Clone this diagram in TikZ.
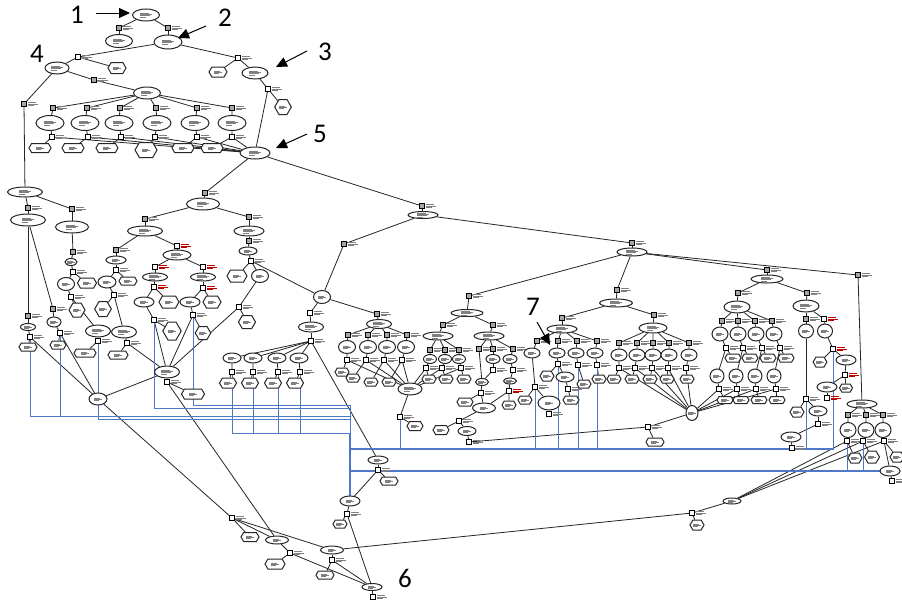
\documentclass[tikz,border=0pt]{standalone}
\usepackage{fontspec}
\newfontfamily\numfont{Carlito}
\usetikzlibrary{shapes.geometric,shapes.symbols,arrows.meta}
\definecolor{blueL}{RGB}{78,120,200}
\pgfdeclarelayer{bg}
\pgfsetlayers{bg,main}
\newcommand\fin{\color{black!50}\vbox{\hrule width 6pt height .35pt\vskip .8pt\hrule width 8pt height .35pt\vskip .8pt\hrule width 5pt height .35pt}}
\newcommand\finb{\color{black!50}\vbox{\hrule width 9pt height .35pt\vskip .8pt\hrule width 12pt height .35pt\vskip .8pt\hrule width 10pt height .35pt\vskip .8pt\hrule width 6pt height .35pt}}
\newcommand\ftx{\color{black!50}\vbox{\hrule width 8pt height .4pt\vskip 1pt\hrule width 10pt height .4pt\vskip 1pt\hrule width 6pt height .4pt}}
\newcommand\ftr{\color{red!75!black}\vbox{\hrule width 8pt height .45pt\vskip 1pt\hrule width 10pt height .45pt\vskip 1pt\hrule width 6pt height .45pt}}
\tikzset{
 el/.style={ellipse,draw=black!85,line width=1pt,fill=white,inner sep=0pt},
 hx/.style={signal,signal to=east and west,signal pointer angle=120,draw=black!85,line width=1pt,fill=white,inner sep=0pt},
 sq/.style={rectangle,draw=black,line width=0.7pt,fill=white,minimum size=4.8pt,inner sep=0pt,label={[inner sep=0.8pt]right:\ftx}},
 sqg/.style={sq,fill=black!35},
 sqr/.style={rectangle,draw=black,line width=0.7pt,fill=white,minimum size=4.8pt,inner sep=0pt,label={[inner sep=0.8pt]right:\ftr}},
 ed/.style={draw=black!85,line width=0.8pt},
 bl/.style={draw=blueL,line width=0.9pt},
 blt/.style={draw=blueL,line width=1.8pt},
 num/.style={font=\numfont\fontsize{27}{30}\selectfont,inner sep=0pt},
 arr/.style={line width=1pt,-{Triangle[length=11pt,width=10pt]}}
}
\newcommand\ndE[5]{\node[el,minimum width=#4pt,minimum height=#5pt] (#1) at (#2,#3) {\ifdim#4pt>23pt\finb\else\fin\fi};}
\newcommand\ndH[5]{\node[hx,minimum width=#4pt,minimum height=#5pt] (#1) at (#2,#3) {\fin};}
\newcommand\ndS[3]{\node[sq] (#1) at (#2,#3) {};}
\newcommand\ndG[3]{\node[sqg] (#1) at (#2,#3) {};}
\newcommand\ndR[3]{\node[sqr] (#1) at (#2,#3) {};}
\begin{document}
\begin{tikzpicture}[x=1pt,y=-1pt]
\begin{pgfonlayer}{bg}
\fill[white] (0,0) rectangle (902,605);
\end{pgfonlayer}
\useasboundingbox (0,0) rectangle (902,605);
% ---------- top ----------
\ndE{a1}{146}{15}{27}{12}
\ndG{a1s1}{119}{28}
\ndG{a1s2}{168}{28}
\ndE{a2}{119}{41}{27}{13}
\ndE{a3}{168}{42}{28}{14}
\ndS{a3s1}{78}{57}
\ndS{a3s2}{238}{58}
\ndE{a4}{57}{68}{24}{12}
\ndH{a4h}{117}{68}{18}{11}
\ndH{a5h}{218}{72}{18}{10}
\ndE{a5}{255}{73}{26}{12}
\ndS{a5s}{268}{89}
\ndH{a5h2}{283}{107}{16}{15}
\ndG{a4s1}{94}{80}
\ndE{a6}{147}{93}{27}{12}
\ndG{a4s2}{24}{104}
\foreach \i/\xa/\xb/\xc/\xd/\yh/\hh in {1/53/50/52/40/148/9,2/87/85/88/73/148/9,3/120/119/121/107/148/9,4/156/157/155/146/150/15,5/197/195/197/183/148/9,6/232/232/232/212/148/9}{
 \node[sqg] (bs\i) at (\xa,108) {};
 \node[el,minimum width=28pt,minimum height=15pt] (be\i) at (\xb,123) {\finb};
 \node[sq] (bq\i) at (\xc,137) {};
 \node[hx,minimum width=22pt,minimum height=\hh pt] (bh\i) at (\xd,\yh) {\fin};
}
\ndE{n5}{255}{153}{30}{12}
% ---------- left middle ----------
\ndE{c1}{25}{192}{35}{10}
\ndG{c1s1}{28}{208}
\ndG{c1s2}{72}{209}
\ndE{c2}{28}{220}{35}{12}
\ndE{c3}{72}{227}{33}{12}
\ndG{c3s}{73}{252}
\ndE{c4}{71}{262}{12}{7}
\ndS{c4s}{73}{272}
\ndE{c5}{66}{284}{17}{13}
\ndH{c5h}{87}{283}{19}{10}
\ndS{c5s}{71}{297}
\ndH{c5h2}{77}{310}{14}{14}
\ndE{c6}{98}{331}{25}{12}
\ndS{c6s}{98}{341}
\ndH{c6h}{85}{353}{22}{8}
\ndG{c2s1}{28}{316}
\ndE{c7}{28}{327}{15}{7}
\ndS{c7s}{30}{337}
\ndH{c7h}{28}{347}{18}{8}
\ndG{c2s2}{53}{309}
\ndE{c8}{54}{322}{14}{10}
\ndS{c8s}{60}{333}
\ndH{c8h}{58}{345}{16}{8}
\ndE{c9}{98}{399}{18}{12}
% ---------- middle ----------
\ndG{d0s}{205}{193}
\ndE{d0}{203}{204}{33}{12}
\ndG{d1s}{145}{219}
\ndE{d1}{145}{231}{35}{10}
\ndG{d2s}{249}{217}
\ndE{d2}{249}{231}{30}{10}
\ndG{d3s}{116}{250}
\ndE{d3}{116}{260}{20}{8}
\ndS{d3q}{116}{270}
\ndE{d4}{107}{282}{18}{12}
\ndH{d4h}{128}{281}{18}{8}
\ndS{d4s}{114}{295}
\ndH{d4h2}{103}{309}{13}{15}
\ndE{d5}{124}{332}{25}{12}
\ndS{d5s}{127}{343}
\ndH{d5h}{118}{355}{20}{8}
\ndR{d6s}{177}{246}
\ndE{d6}{177}{255}{28}{10}
\ndR{d7s}{155}{267}
\ndE{d7}{155}{277}{25}{8}
\ndR{d8s}{203}{267}
\ndE{d8}{203}{277}{25}{8}
\ndR{d7q}{154}{287}
\ndE{d9}{144}{302}{20}{10}
\ndH{d9h}{169}{302}{20}{12}
\ndR{d8q}{203}{288}
\ndE{d10}{190}{302}{20}{10}
\ndH{d10h}{212}{302}{18}{12}
\ndS{d9s}{154}{320}
\ndH{d9h2}{172}{331}{16}{18}
\ndS{d10s}{193}{315}
\ndH{d10h2}{203}{333}{14}{13}
\ndE{m0}{167}{372}{25}{12}
\ndS{m0s}{167}{382}
\ndH{m0h}{193}{394}{23}{10}
\ndG{d2q}{249}{241}
\ndE{d11}{248}{251}{18}{8}
\ndS{d11s}{251}{261}
\ndH{d11h}{237}{276}{20}{12}
\ndE{d12}{260}{276}{17}{13}
\ndS{d12s}{239}{307}
\ndH{d12h}{247}{322}{17}{13}
% ---------- centre ----------
\ndG{g0s}{422}{206}
\ndE{g0}{423}{215}{30}{7}
\ndG{f0s}{344}{244}
\ndE{f0}{322}{297}{17}{13}
\ndS{f1s}{310}{313}
\ndE{f1}{311}{327}{25}{10}
\ndS{f1q}{311}{341}
\foreach \i/\xe/\xq/\xh in {1/232/232/228,2/253/253/250,3/277/278/273,4/299/300/295}{
 \node[el,minimum width=18pt,minimum height=10pt] (fl\i) at (\xe,358) {\fin};
 \node[sq] (flq\i) at (\xq,372) {};
 \node[hx,minimum width=17pt,minimum height=10pt] (flh\i) at (\xh,383) {\fin};
}
\ndG{f2s}{377}{314}
\ndE{f2}{379}{324}{25}{9}
\foreach \i/\xs/\xe/\xq/\xh/\yh in {1/348/347/347/342/372,2/368/368/366/353/378,3/387/387/384/371/382,4/407/406/402/389/382}{
 \node[sqg] (frs\i) at (\xs,335) {};
 \node[el,minimum width=17pt,minimum height=13pt] (fre\i) at (\xe,347) {\fin};
 \node[sq] (frq\i) at (\xq,360) {};
 \node[hx,minimum width=14pt,minimum height=8pt] (frh\i) at (\xh,\yh) {\fin};
}
\ndE{m1}{410}{389}{24}{12}
\ndS{m1s}{400}{417}
\ndH{m1h}{415}{426}{16}{9}
% ---------- centre right ----------
\ndG{p0s}{632}{243}
\ndE{p0}{632}{252}{30}{8}
\ndG{h0s}{469}{296}
\ndE{h0}{467}{313}{32}{7}
\ndG{h1s}{443}{325}
\ndE{h1}{438}{336}{30}{8}
\ndG{h2s}{493}{325}
\ndE{h2}{489}{336}{30}{8}
\foreach \i/\x/\xq/\xh in {1/430/426/429,2/445/442/446,3/459/461/464}{
 \node[sqg] (h1s\i) at (\x,350) {};
 \node[el,minimum width=13pt,minimum height=9pt] (h1e\i) at (\x,359) {\fin};
 \node[sq] (h1q\i) at (\xq,368) {};
 \node[hx,minimum width=14pt,minimum height=8pt] (h1h\i) at (\xh,379) {\fin};
}
\ndG{h2sA}{479}{349}
\ndE{h2eA}{482}{382}{13}{7}
\ndG{h2sB}{493}{349}
\ndE{h2eB}{493}{359}{14}{9}
\ndS{h2qB}{493}{370}
\ndG{h2sC}{513}{349}
\ndE{h2eC}{510}{359}{14}{9}
\ndS{h2qC}{513}{370}
\ndE{h2rE}{510}{381}{13}{6}
\ndR{h2rS}{509}{391}
\ndH{h2rH}{509}{405}{14}{8}
\ndS{h2s4}{481}{393}
\ndH{h2h4}{465}{402}{16}{8}
\ndE{h2f}{484}{408}{23}{10}
\ndS{h2fs}{459}{421}
\ndH{h2fh}{441}{430}{16}{9}
\ndE{h2g}{467}{431}{18}{9}
\ndS{h2gs}{469}{442}
\ndG{p1s}{617}{290}
\ndE{p1}{616}{303}{33}{8}
\ndG{p2s}{562}{318}
\ndE{p2}{562}{329}{30}{8}
\ndG{p3s}{654}{315}
\ndE{p3}{653}{328}{28}{10}
\foreach \i/\xs/\xe in {1/537/532,2/558/557,3/577/576,4/597/595}{
 \node[sqg] (p2s\i) at (\xs,341) {};
 \node[el,minimum width=16pt,minimum height=10pt] (p2e\i) at (\xe,353) {\fin};
}
\ndS{p2q1}{535}{387}
\ndH{p2h1}{525}{400}{14}{8}
\ndE{p2f1}{549}{403}{22}{14}
\ndS{p2r1}{549}{414}
\ndS{p2q2}{558}{364}
\ndH{p2h2}{547}{376}{14}{10}
\ndE{p2f2}{565}{377}{18}{10}
\ndS{p2r2}{568}{389}
\ndH{p2g2}{571}{400}{16}{8}
\ndS{p2q3}{578}{365}
\ndH{p2h3}{584}{384}{14}{8}
\ndS{p2q4}{597}{365}
\ndH{p2h4}{599}{379}{14}{8}
\foreach \i/\x/\xq/\xh in {1/619/619/614,2/637/635/632,3/653/652/650,4/669/668/667,5/689/686/687}{
 \node[sqg] (p3s\i) at (\x,343) {};
 \node[el,minimum width=16pt,minimum height=12pt] (p3e\i) at (\x,355) {\fin};
 \node[sq] (p3q\i) at (\xq,368) {};
 \node[hx,minimum width=14pt,minimum height=8pt] (p3h\i) at (\xh,379) {\fin};
}
\ndE{m2}{692}{413}{12}{15}
\ndS{m2s}{648}{427}
\ndH{m2h}{655}{442}{18}{8}
% ---------- right ----------
\ndG{q0s}{767}{270}
\ndE{q0}{767}{279}{32}{8}
\ndG{q1s}{738}{293}
\ndE{q1}{737}{307}{26}{12}
\ndG{q2s}{807}{293}
\ndE{q2}{806}{306}{26}{12}
\foreach \i/\xa/\xe/\xq/\xh/\xf/\xr/\xg in {1/722/720/726/733/717/719/725,2/738/738/743/750/736/737/741,3/755/756/762/768/755/756/759,4/772/774/780/786/774/776/777}{
 \node[sqg] (q1s\i) at (\xa,321) {};
 \node[el,minimum width=16pt,minimum height=14pt] (q1e\i) at (\xe,334) {\fin};
 \node[sq] (q1q\i) at (\xq,348) {};
 \node[hx,minimum width=16pt,minimum height=8pt] (q1h\i) at (\xh,358) {\fin};
 \node[el,minimum width=14pt,minimum height=14pt] (q1f\i) at (\xf,376) {\fin};
 \node[sq] (q1r\i) at (\xr,389) {};
 \node[hx,minimum width=16pt,minimum height=7pt] (q1g\i) at (\xg,400) {\fin};
}
\ndG{q2sa}{806}{319}
\ndE{q2ea}{806}{331}{15}{14}
\ndS{q2qa}{806}{399}
\ndH{q2ha}{797}{412}{14}{10}
\ndE{q2fa}{818}{411}{18}{10}
\ndS{q2ra}{818}{424}
\ndE{q2ga}{791}{437}{20}{10}
\ndS{q2gs}{792}{448}
\ndR{q2sb}{824}{319}
\ndE{q2eb}{825}{331}{15}{14}
\ndR{q2qb}{833}{349}
\ndH{q2hb}{820}{362}{13}{10}
\ndE{q2fb}{846}{360}{20}{10}
\ndR{q2rb}{845}{375}
\ndE{q2fc}{827}{387}{20}{10}
\ndR{q2rc}{827}{398}
\ndH{q2hc}{846}{388}{13}{8}
\ndG{r0s}{858}{275}
\ndE{r0}{862}{404}{30}{8}
\foreach \i/\x/\xq/\xh/\yh/\hh in {1/848/847/855/458/10,2/866/863/872/457/12,3/883/884/897/457/10}{
 \node[sqg] (rs\i) at (\x,415) {};
 \node[el,minimum width=16pt,minimum height=15pt] (re\i) at (\x,430) {\fin};
 \node[sq] (rq\i) at (\xq,441) {};
 \node[hx,minimum width=14pt,minimum height=\hh pt] (rh\i) at (\xh,\yh) {\fin};
}
\ndE{r4}{890}{471}{20}{10}
\ndS{r4s}{892}{481}
\ndE{t0}{732}{501}{18}{6}
\ndS{t0s}{692}{513}
\ndH{t0h}{697}{525}{14}{10}
% ---------- bottom ----------
\ndE{k0}{378}{460}{20}{8}
\ndS{k0s}{378}{470}
\ndH{k0h}{389}{481}{18}{8}
\ndE{k1}{350}{501}{20}{10}
\ndS{k1s}{347}{514}
\ndH{k1h}{340}{524}{14}{8}
\ndS{e1s}{232}{518}
\ndH{e1h}{250}{537}{18}{9}
\ndE{e2}{277}{540}{23}{8}
\ndS{e2s}{290}{553}
\ndH{e2h}{275}{564}{20}{10}
\ndE{e3}{332}{550}{23}{8}
\ndS{e3s}{332}{560}
\ndH{e3h}{325}{575}{18}{8}
\ndE{e4}{372}{587}{20}{7}
\ndS{e4s}{373}{597}
% ---------- numbers ----------
\node[num] (L1) at (77,15) {1};
\node[num] (L2) at (225,18) {2};
\node[num] (L3) at (325,52) {3};
\node[num] (L4) at (37,54) {4};
\node[num] (L5) at (320,134) {5};
\node[num] (L6) at (405,578) {6};
\node[num] (L7) at (533,307) {7};
\coordinate (A1s) at (96,13); \coordinate (A1e) at (130,13);
\coordinate (A2s) at (206,26); \coordinate (A2e) at (178,38);
\coordinate (A3s) at (307,51); \coordinate (A3e) at (276,67);
\coordinate (A5s) at (307,134); \coordinate (A5e) at (276,148);
\coordinate (A7s) at (537,322); \coordinate (A7e) at (550,345);
\draw[arr] (A1s) -- (A1e);
\draw[arr] (A2s) -- (A2e);
\draw[arr] (A3s) -- (A3e);
\draw[arr] (A5s) -- (A5e);
\draw[arr] (A7s) -- (A7e);
% ---------- connectors ----------
\begin{pgfonlayer}{bg}
\foreach \a/\b in {a1/a1s1,a1s1/a2,a1/a1s2,a1s2/a3,a3/a3s1,a3/a3s2,a3s1/a4,a3s1/a4h,a3s2/a5h,a3s2/a5,a5/a5s,a5s/a5h2,a5s/n5,a4/a4s1,a4s1/a6,a4/a4s2,a4s2/c1,
c1/c1s1,c1s1/c2,c1/c1s2,c1s2/c3,c3/c3s,c3s/c4,c4/c4s,c4s/c5,c4s/c5h,c5/c5s,c5s/c5h2,c5s/c6,c6/c6s,c6s/c6h,c6s/c9,c2/c2s1,c2s1/c7,c7/c7s,c7s/c7h,c7s/c9,c2/c2s2,c2s2/c8,c8/c8s,c8s/c8h,c8s/c9,c9/m0,c9/e1s,
n5/d0s,d0s/d0,d0/d1s,d1s/d1,d0/d2s,d2s/d2,d1/d3s,d3s/d3,d3/d3q,d3q/d4,d3q/d4h,d4/d4s,d4s/d4h2,d4s/d5,d5/d5s,d5s/d5h,d5s/m0,d1/d6s,d6s/d6,d6/d7s,d7s/d7,d6/d8s,d8s/d8,d7/d7q,d7q/d9,d7q/d9h,d9/d9s,d9s/d9h2,d9s/m0,d8/d8q,d8q/d10,d8q/d10h,d10/d10s,d10s/d10h2,d10s/m0,m0/m0s,m0s/m0h,m0s/e2,d2/d2q,d2q/d11,d11/d11s,d11s/d11h,d11s/d12,d11s/f0,d12/d12s,d12s/d12h,d12s/m0,
n5/g0s,g0s/g0,g0/f0s,f0s/f0,f0/f1s,f1s/f1,f1/f1q,f1q/k0,f0/f2s,f2s/f2,m1/m1s,m1s/m1h,
g0/p0s,p0s/p0,p0/h0s,h0s/h0,h0/h1s,h1s/h1,h0/h2s,h2s/h2,
h2/h2sA,h2sA/h2eA,h2/h2sB,h2sB/h2eB,h2eB/h2qB,h2qB/h2eA,h2/h2sC,h2sC/h2eC,h2eC/h2qC,h2qC/h2rE,h2rE/h2rS,h2rS/h2rH,h2rS/h2f,h2eA/h2s4,h2s4/h2h4,h2s4/h2f,h2f/h2fs,h2fs/h2fh,h2fs/h2g,h2g/h2gs,h2gs/m2s,
p0/p1s,p1s/p1,p1/p2s,p2s/p2,p1/p3s,p3s/p3,p0/q0s,q0s/q0,p0/r0s,r0s/r0,m2/m2s,m2s/m2h,
p2e1/p2q1,p2q1/p2h1,p2q1/p2f1,p2f1/p2r1,p2e2/p2q2,p2q2/p2h2,p2q2/p2f2,p2f2/p2r2,p2r2/p2g2,p2e3/p2q3,p2q3/p2h3,p2e4/p2q4,p2q4/p2h4,
q0/q1s,q1s/q1,q0/q2s,q2s/q2,q2/q2sa,q2sa/q2ea,q2/q2sb,q2sb/q2eb,q2ea/q2qa,q2qa/q2ha,q2qa/q2fa,q2fa/q2ra,q2ra/q2ga,q2ga/q2gs,q2eb/q2qb,q2qb/q2hb,q2qb/q2fb,q2fb/q2rb,q2rb/q2fc,q2fc/q2rc,q2rb/q2hc,
t0/t0s,t0s/t0h,t0s/e3,rq3/r4,r4/r4s,
k0/k0s,k0s/k0h,k0s/k1,k1/k1s,k1s/k1h,k1s/e4,e1s/e1h,e1s/e2,e1s/e3,e2/e2s,e2s/e2h,e2s/e4,e3/e3s,e3s/e3h,e3s/e4,e4/e4s}
 \draw[ed] (\a) -- (\b);
\foreach \i in {1,...,6} \draw[ed] (a6)--(bs\i) (bs\i)--(be\i) (be\i)--(bq\i) (bq\i)--(bh\i) (bq\i)--(n5);
\foreach \i in {1,...,4} \draw[ed] (f1q)--(fl\i) (fl\i)--(flq\i) (flq\i)--(flh\i);
\foreach \i in {1,...,4} \draw[ed] (f2)--(frs\i) (frs\i)--(fre\i) (fre\i)--(frq\i) (frq\i)--(frh\i) (frq\i)--(m1);
\foreach \i in {1,...,3} \draw[ed] (h1)--(h1s\i) (h1s\i)--(h1e\i) (h1e\i)--(h1q\i) (h1q\i)--(h1h\i) (h1q\i)--(m1);
\foreach \i in {1,...,4} \draw[ed] (p2)--(p2s\i) (p2s\i)--(p2e\i);
\foreach \i in {1,...,5} \draw[ed] (p3)--(p3s\i) (p3s\i)--(p3e\i) (p3e\i)--(p3q\i) (p3q\i)--(p3h\i) (p3q\i)--(m2);
\foreach \i in {1,...,4} \draw[ed] (q1)--(q1s\i) (q1s\i)--(q1e\i) (q1e\i)--(q1q\i) (q1q\i)--(q1h\i) (q1q\i)--(q1f\i) (q1f\i)--(q1r\i) (q1r\i)--(q1g\i) (q1r\i)--(m2);
\foreach \i in {1,...,3} \draw[ed] (r0)--(rs\i) (rs\i)--(re\i) (re\i)--(rq\i) (rq\i)--(rh\i) (rq\i)--(t0);
% blue links
\coordinate (B405) at (350,405);
\coordinate (B408) at (350,408);
\coordinate (B416) at (350,416);
\coordinate (B419) at (350,419);
\coordinate (B433) at (350,433);
\coordinate (B449) at (350,449);
\coordinate (B449e) at (833,449);
\coordinate (B471) at (350,471);
\draw[bl] (c7s.south) |- (B416);
\draw[bl] (c8s.south) |- (B416);
\draw[bl] (c6s.south) |- (B419);
\draw[bl] (d9s.south) |- (B408);
\draw[bl] (d10s.south) |- (B405);
\foreach \i in {1,...,4} \draw[bl] (flq\i.south) |- (B433);
\draw[bl] (B405) -- (B449);
\draw[blt] (B433) -- (k1.north);
\draw[blt] (B449) -- (B449e);
\draw[blt] (B471) -- (r4.west);
\foreach \n in {p2q1,p2q2,p2q3,p2q4,m1s,q2qa,q2qb} \draw[bl] (\n.south) |- (B449);
\foreach \n in {rq1,rq2} \draw[bl] (\n.south) |- (B471);
\end{pgfonlayer}
\end{tikzpicture}
\end{document}
